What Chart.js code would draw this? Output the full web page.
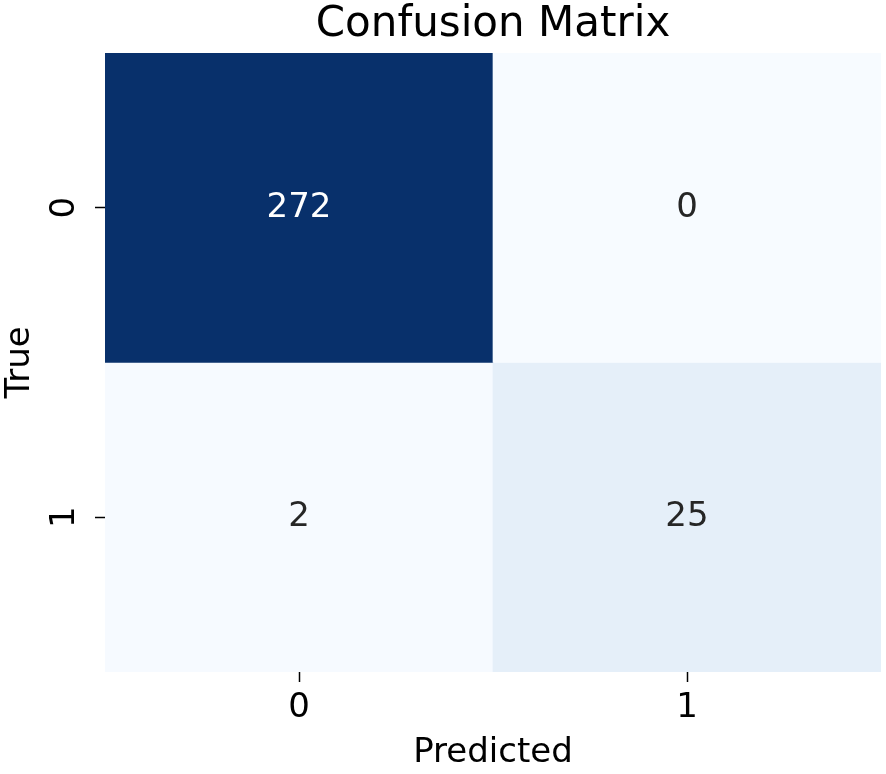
<!DOCTYPE html>
<html>
<head>
<meta charset="utf-8">
<script src="https://cdn.jsdelivr.net/npm/chart.js@4.4.0/dist/chart.umd.min.js"></script>
<style>
  html, body { margin: 0; padding: 0; background: #fff; }
  canvas { display: block; }
</style>
</head>
<body>
<canvas id="cm" width="886" height="774"></canvas>
<script>
// данные матрицы ошибок
const chartTitle = 'Confusion Matrix';
const trueLabels = ['0', '1'];
const predLabels = ['0', '1'];
const rowTrue0 = [272, 0];
const rowTrue1 = [2, 25];
const matrix = [rowTrue0, rowTrue1];

// палитра Blues
const bluesStops = ['#f7fbff', '#deebf7', '#c6dbef', '#9ecae1', '#6baed6', '#4292c6', '#2171b5', '#08519c', '#08306b'];

function hexToRgb(h) {
  return [parseInt(h.slice(1, 3), 16), parseInt(h.slice(3, 5), 16), parseInt(h.slice(5, 7), 16)];
}

function blues(t) {
  t = Math.max(0, Math.min(1, t));
  const pos = t * (bluesStops.length - 1);
  const i = Math.min(Math.floor(pos), bluesStops.length - 2);
  const f = pos - i;
  const a = hexToRgb(bluesStops[i]);
  const b = hexToRgb(bluesStops[i + 1]);
  const c = a.map((v, k) => Math.round(v + (b[k] - v) * f));
  return `rgb(${c[0]},${c[1]},${c[2]})`;
}

const allValues = matrix.flat();
const vMin = Math.min(...allValues);
const vMax = Math.max(...allValues);
const norm = v => (v - vMin) / (vMax - vMin);

// по одному набору на строку
const datasets = matrix.map((row, r) => ({
  data: row.map((v, c) => ({x: c, y: [r - 0.5, r + 0.5], v: v})),
  backgroundColor: row.map(v => blues(norm(v))),
  borderWidth: 0,
  grouped: false,
  barPercentage: 1,
  categoryPercentage: 1
}));

// подписи значений в ячейках
const cellLabels = {
  id: 'cellLabels',
  afterDatasetsDraw(chart) {
    const ctx = chart.ctx;
    ctx.save();
    ctx.font = '34px "DejaVu Sans"';
    ctx.textAlign = 'center';
    ctx.textBaseline = 'middle';
    chart.data.datasets.forEach((ds, i) => {
      chart.getDatasetMeta(i).data.forEach((el, j) => {
        const v = ds.data[j].v;
        ctx.fillStyle = norm(v) > 0.6 ? '#ffffff' : '#262626';
        ctx.fillText(String(v), el.x, (el.y + el.base) / 2);
      });
    });
    ctx.restore();
  }
};

// заголовок по центру области графика и повёрнутые подписи оси Y
const extraText = {
  id: 'extraText',
  afterDraw(chart) {
    const ctx = chart.ctx;
    const area = chart.chartArea;
    const y = chart.scales.y;
    ctx.save();
    ctx.fillStyle = '#000';
    ctx.textAlign = 'center';
    ctx.font = '42px "DejaVu Sans"';
    ctx.textBaseline = 'alphabetic';
    ctx.fillText(chartTitle, (area.left + area.right) / 2, 36);

    ctx.font = '34px "DejaVu Sans"';
    ctx.textBaseline = 'middle';
    y.ticks.forEach(t => {
      const py = y.getPixelForValue(t.value);
      ctx.save();
      ctx.translate(65, py);
      ctx.rotate(-Math.PI / 2);
      ctx.fillText(trueLabels[t.value], 0, 0);
      ctx.restore();
    });
    ctx.restore();
  }
};

const tickFont = {family: 'DejaVu Sans', size: 34};

new Chart(document.getElementById('cm'), {
  type: 'bar',
  data: {datasets: datasets},
  options: {
    responsive: false,
    animation: false,
    layout: {padding: {left: 0, right: 5, top: 53, bottom: 0}},
    plugins: {
      legend: {display: false},
      tooltip: {enabled: false},
      title: {display: false}
    },
    scales: {
      x: {
        type: 'linear',
        offset: false,
        min: -0.5,
        max: 1.5,
        afterBuildTicks: s => { s.ticks = predLabels.map((_, i) => ({value: i})); },
        afterFit: s => { s.height = 102; },
        ticks: {
          color: '#000',
          font: tickFont,
          padding: 6,
          callback: v => predLabels[v]
        },
        grid: {offset: false, drawOnChartArea: false, tickLength: 10, tickColor: '#000', tickWidth: 1.5},
        border: {display: false},
        title: {
          display: true,
          text: 'Predicted',
          color: '#000',
          font: tickFont,
          padding: {top: 0, bottom: 0}
        }
      },
      y: {
        type: 'linear',
        reverse: true,
        offset: false,
        min: -0.5,
        max: 1.5,
        afterBuildTicks: s => { s.ticks = trueLabels.map((_, i) => ({value: i})); },
        afterFit: s => { s.width = 105; },
        ticks: {display: false},
        grid: {offset: false, drawOnChartArea: false, tickLength: 10, tickColor: '#000', tickWidth: 1.5},
        border: {display: false},
        title: {
          display: true,
          text: 'True',
          color: '#000',
          font: tickFont,
          padding: {top: 0, bottom: 0}
        }
      }
    }
  },
  plugins: [cellLabels, extraText]
});
</script>
</body>
</html>
